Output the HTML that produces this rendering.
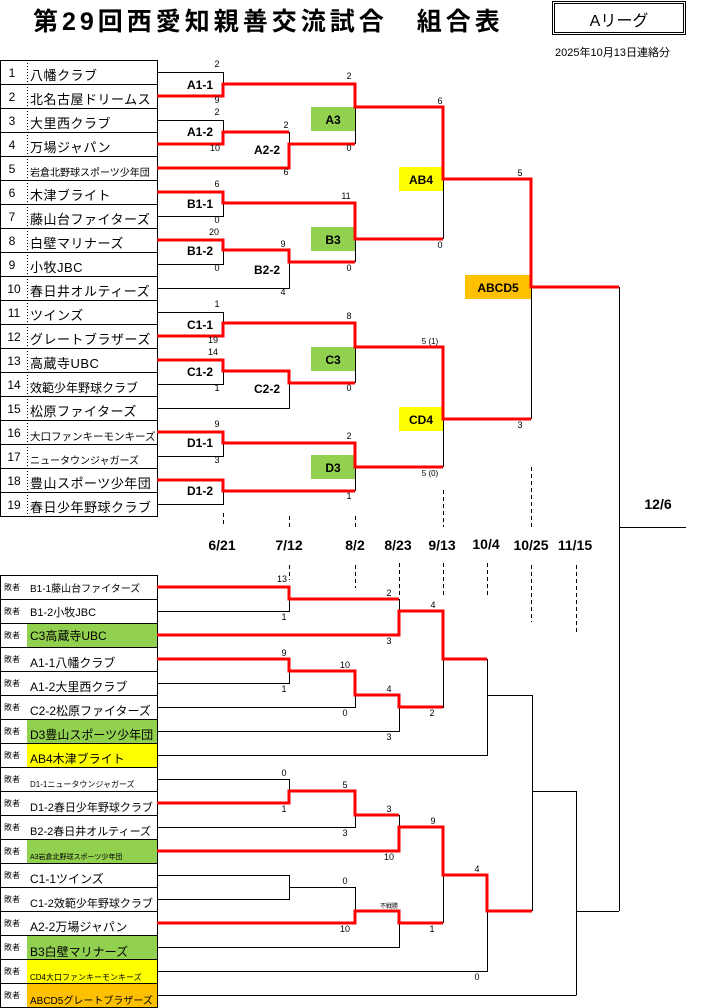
<!DOCTYPE html>
<html><head><meta charset="utf-8"><style>
html,body{margin:0;padding:0;background:#fff;}
svg{display:block;font-family:"Liberation Sans","Noto Sans CJK JP",sans-serif;}
.s{font-size:9px;text-anchor:middle;}
.b{font-size:12px;font-weight:bold;text-anchor:middle;}
.n{font-size:13px;letter-spacing:0.5px;}
.num{font-size:12px;text-anchor:middle;}
.l{font-size:12px;}
.k{font-size:8px;}
.d{font-size:14px;font-weight:bold;text-anchor:middle;}
</style></head><body>
<svg width="708" height="1008" viewBox="0 0 708 1008" xmlns="http://www.w3.org/2000/svg">
<!-- title -->
<text x="33" y="30" font-size="25" font-weight="bold" letter-spacing="4">第29回西愛知親善交流試合　組合表</text>
<rect x="552.5" y="1.5" width="133" height="33" fill="none" stroke="#000"/>
<rect x="554.5" y="3.5" width="129" height="29" fill="none" stroke="#000"/>
<text x="619" y="26" font-size="16" text-anchor="middle">Aリーグ</text>
<text x="555" y="56" font-size="11">2025年10月13日連絡分</text>

<!-- colored boxes top -->
<rect x="311" y="107" width="44" height="24" fill="#92d050"/>
<rect x="311" y="227" width="44" height="24" fill="#92d050"/>
<rect x="311" y="347" width="44" height="24" fill="#92d050"/>
<rect x="311" y="455" width="44" height="24" fill="#92d050"/>
<rect x="399" y="167" width="44" height="24" fill="#ffff00"/>
<rect x="399" y="407" width="44" height="24" fill="#ffff00"/>
<rect x="465" y="275" width="66" height="24" fill="#ffc000"/>

<!-- bottom colored cells -->
<rect x="27" y="623" width="130" height="24" fill="#92d050"/>
<rect x="27" y="719" width="130" height="24" fill="#92d050"/>
<rect x="27" y="743" width="130" height="24" fill="#ffff00"/>
<rect x="27" y="839" width="130" height="24" fill="#92d050"/>
<rect x="27" y="935" width="130" height="24" fill="#92d050"/>
<rect x="27" y="959" width="130" height="24" fill="#ffff00"/>
<rect x="27" y="983" width="130" height="24" fill="#ffc000"/>

<g stroke="#000" stroke-width="1" fill="none">
<rect x="0.5" y="60.5" width="157" height="456"/>
<path d="M0 84.5H157M0 108.5H157M0 132.5H157M0 156.5H157M0 180.5H157M0 204.5H157M0 228.5H157M0 252.5H157M0 276.5H157M0 300.5H157M0 324.5H157M0 348.5H157M0 372.5H157M0 396.5H157M0 420.5H157M0 444.5H157M0 468.5H157M0 492.5H157"/>
<path d="M27.5 60V516" stroke-dasharray="1,2"/>
<rect x="0.5" y="575.5" width="157" height="432"/>
<path d="M0 599.5H157M0 623.5H157M0 647.5H157M0 671.5H157M0 695.5H157M0 719.5H157M0 743.5H157M0 767.5H157M0 791.5H157M0 815.5H157M0 839.5H157M0 863.5H157M0 887.5H157M0 911.5H157M0 935.5H157M0 959.5H157M0 983.5H157"/>
<path d="M157 72.5H223.5V96M157 120.5H223.5V144M157 216.5H223.5V192M157 264.5H223.5V240M157 312.5H223.5V336M157 384.5H223.5V360M157 456.5H223.5V432M157 504.5H223.5V480"/>
<path d="M223 132.5H289.5V168M157 288.5H289.5V250M223 250.5H289.5M157 408.5H289.5V371"/>
<path d="M355.5 84V144M355.5 203V262M355.5 323V383M355.5 443V491"/>
<path d="M443.5 107V239M443.5 347V467M531.5 179V419M619.5 287V911M619 527.5H686"/>
<path d="M157 611.5H289.5V587M289 599.5H399.5V635M157 683.5H289.5V659M157 707.5H355.5V671M157 731.5H399.5V695M399 707.5H443.5V611M157 755.5H487.5V659M487 695.5H532.5V911M532 791.5H576.5V995M157 995.5H576.5M576 911.5H619"/>
<path d="M157 779.5H289.5V803M157 827.5H355.5V791M157 851.5H399.5V815M443.5 827V923M157 875.5H289.5V899.5H157M289 887.5H355.5V923M157 947.5H399.5V911M157 971.5H487.5V875"/>
<g stroke-dasharray="4,3">
<path d="M223.5 513V527M289.5 516V530M355.5 516V530M443.5 490V527M531.5 467V527"/>
<path d="M289.5 565V580M355.5 565V588M399.5 563V598M443.5 563V598M487.5 563V598M531.5 565V622M576.5 565V634"/>
</g>
</g>

<g stroke="#ff0000" stroke-width="3" fill="none" stroke-linejoin="miter">
<path d="M157 96H223V84H355V107H443V179H531V287H619"/>
<path d="M157 144H223V132H289"/>
<path d="M157 168H289V144H355"/>
<path d="M157 192H223V203H355V239H443"/>
<path d="M157 240H223V250H289V262H355"/>
<path d="M157 336H223V323H355V347H443V419H531"/>
<path d="M157 360H223V371H289V383H355"/>
<path d="M157 432H223V443H355V467H443"/>
<path d="M157 480H223V491H355"/>
<path d="M157 587H289V599H399"/>
<path d="M157 635H399V611H443V659H487"/>
<path d="M157 659H289V671H355V695H399V707H443"/>
<path d="M157 803H289V791H355V815H399"/>
<path d="M157 851H399V827H443V875H487V911H532"/>
<path d="M157 923H355V911H399V923H443"/>
</g>

<g class="num">
<text x="12" y="77">1</text><text x="12" y="101">2</text><text x="12" y="125">3</text><text x="12" y="149">4</text><text x="12" y="173">5</text><text x="12" y="197">6</text><text x="12" y="221">7</text><text x="12" y="245">8</text><text x="12" y="269">9</text><text x="14" y="293">10</text><text x="14" y="317">11</text><text x="14" y="341">12</text><text x="14" y="365">13</text><text x="14" y="389">14</text><text x="14" y="413">15</text><text x="14" y="437">16</text><text x="14" y="461">17</text><text x="14" y="485">18</text><text x="14" y="509">19</text>
</g>
<g class="n">
<text x="30" y="80">八幡クラブ</text>
<text x="30" y="104">北名古屋ドリームス</text>
<text x="30" y="128">大里西クラブ</text>
<text x="30" y="152">万場ジャパン</text>
<text x="30" y="176" font-size="10" letter-spacing="0">岩倉北野球スポーツ少年団</text>
<text x="30" y="200">木津ブライト</text>
<text x="30" y="224">藤山台ファイターズ</text>
<text x="30" y="248">白壁マリナーズ</text>
<text x="30" y="272">小牧JBC</text>
<text x="30" y="296">春日井オルティーズ</text>
<text x="30" y="320">ツインズ</text>
<text x="30" y="344">グレートブラザーズ</text>
<text x="30" y="368">高蔵寺UBC</text>
<text x="30" y="392" font-size="12" letter-spacing="0">效範少年野球クラブ</text>
<text x="30" y="416">松原ファイターズ</text>
<text x="30" y="440" font-size="10.5" letter-spacing="0">大口ファンキーモンキーズ</text>
<text x="30" y="464" font-size="10" letter-spacing="0">ニュータウンジャガーズ</text>
<text x="30" y="488">豊山スポーツ少年団</text>
<text x="30" y="512">春日少年野球クラブ</text>
</g>

<g class="b">
<text x="200" y="89">A1-1</text><text x="200" y="136">A1-2</text><text x="267" y="154">A2-2</text>
<text x="333" y="124">A3</text>
<text x="200" y="208">B1-1</text><text x="200" y="255">B1-2</text><text x="267" y="274">B2-2</text>
<text x="333" y="244">B3</text>
<text x="421" y="184">AB4</text>
<text x="498" y="292">ABCD5</text>
<text x="200" y="329">C1-1</text><text x="200" y="376">C1-2</text><text x="267" y="393">C2-2</text>
<text x="333" y="364">C3</text>
<text x="421" y="424">CD4</text>
<text x="200" y="447">D1-1</text><text x="200" y="495">D1-2</text>
<text x="333" y="472">D3</text>
</g>

<g class="s">
<text x="217" y="67">2</text><text x="217" y="103">9</text>
<text x="217" y="115">2</text><text x="215" y="151">10</text>
<text x="286" y="128">2</text><text x="286" y="175">6</text>
<text x="349" y="79">2</text><text x="349" y="151">0</text>
<text x="217" y="187">6</text><text x="217" y="223">0</text>
<text x="214" y="235">20</text><text x="217" y="271">0</text>
<text x="283" y="247">9</text><text x="283" y="295">4</text>
<text x="346" y="199">11</text><text x="349" y="271">0</text>
<text x="440" y="104">6</text><text x="440" y="248">0</text>
<text x="520" y="176">5</text><text x="520" y="428">3</text>
<text x="217" y="307">1</text><text x="213" y="343">19</text>
<text x="213" y="355">14</text><text x="217" y="391">1</text>
<text x="349" y="319">8</text><text x="349" y="391">0</text>
<text x="430" y="344" font-size="8">5 (1)</text><text x="430" y="476" font-size="8">5 (0)</text>
<text x="217" y="427">9</text><text x="217" y="463">3</text>
<text x="349" y="439">2</text><text x="349" y="499">1</text>
</g>

<g class="d">
<text x="222" y="550">6/21</text><text x="289" y="550">7/12</text><text x="355" y="550">8/2</text><text x="398" y="550">8/23</text><text x="442" y="550">9/13</text><text x="486" y="549">10/4</text><text x="531" y="550">10/25</text><text x="575" y="550">11/15</text>
<text x="658" y="509">12/6</text>
</g>

<g class="k">
<text x="4" y="590">敗者</text><text x="4" y="614">敗者</text><text x="4" y="638">敗者</text><text x="4" y="662">敗者</text><text x="4" y="686">敗者</text><text x="4" y="710">敗者</text><text x="4" y="734">敗者</text><text x="4" y="758">敗者</text><text x="4" y="782">敗者</text><text x="4" y="806">敗者</text><text x="4" y="830">敗者</text><text x="4" y="854">敗者</text><text x="4" y="878">敗者</text><text x="4" y="902">敗者</text><text x="4" y="926">敗者</text><text x="4" y="950">敗者</text><text x="4" y="974">敗者</text><text x="4" y="998">敗者</text>
</g>
<g class="l">
<text x="30" y="592" font-size="10">B1-1藤山台ファイターズ</text>
<text x="30" y="616" font-size="11">B1-2小牧JBC</text>
<text x="30" y="640">C3高蔵寺UBC</text>
<text x="30" y="667">A1-1八幡クラブ</text>
<text x="30" y="691">A1-2大里西クラブ</text>
<text x="30" y="715">C2-2松原ファイターズ</text>
<text x="30" y="739">D3豊山スポーツ少年団</text>
<text x="30" y="763">AB4木津ブライト</text>
<text x="30" y="787" font-size="8">D1-1ニュータウンジャガーズ</text>
<text x="30" y="811" font-size="11">D1-2春日少年野球クラブ</text>
<text x="30" y="835" font-size="11">B2-2春日井オルティーズ</text>
<text x="30" y="859" font-size="7">A3岩倉北野球スポーツ少年団</text>
<text x="30" y="883">C1-1ツインズ</text>
<text x="30" y="907" font-size="11">C1-2效範少年野球クラブ</text>
<text x="30" y="931">A2-2万場ジャパン</text>
<text x="30" y="956">B3白壁マリナーズ</text>
<text x="30" y="980" font-size="8">CD4大口ファンキーモンキーズ</text>
<text x="30" y="1004" font-size="10">ABCD5グレートブラザーズ</text>
</g>

<g class="s">
<text x="282" y="582">13</text><text x="284" y="620">1</text>
<text x="389" y="596">2</text><text x="389" y="644">3</text>
<text x="433" y="608">4</text>
<text x="284" y="656">9</text><text x="284" y="692">1</text>
<text x="345" y="668">10</text><text x="345" y="716">0</text>
<text x="389" y="692">4</text><text x="389" y="740">3</text>
<text x="432" y="716">2</text>
<text x="284" y="776">0</text><text x="284" y="812">1</text>
<text x="345" y="788">5</text><text x="345" y="836">3</text>
<text x="389" y="812">3</text><text x="389" y="860">10</text>
<text x="433" y="824">9</text>
<text x="477" y="872">4</text>
<text x="345" y="884">0</text><text x="345" y="932">10</text>
<text x="389" y="908" font-size="6">不戦勝</text>
<text x="432" y="932">1</text>
<text x="477" y="980">0</text>
</g>
</svg>
</body></html>
